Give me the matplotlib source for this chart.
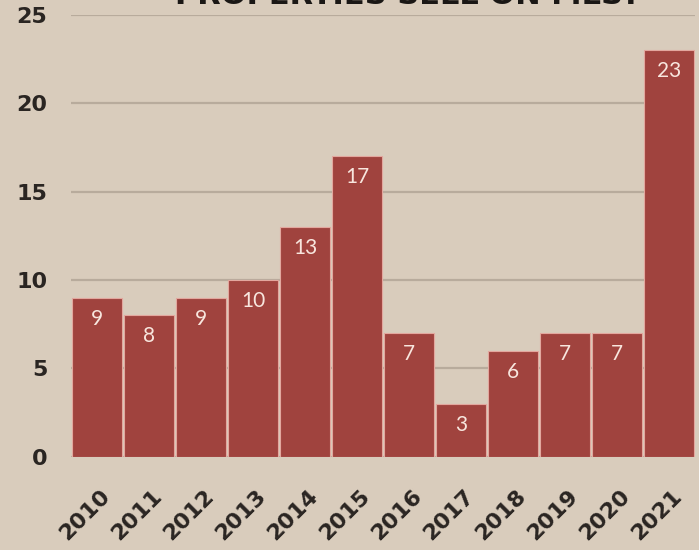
import matplotlib
matplotlib.use("Agg")
import matplotlib.pyplot as plt
from matplotlib.transforms import ScaledTranslation

years = ["2010", "2011", "2012", "2013", "2014", "2015",
         "2016", "2017", "2018", "2019", "2020", "2021"]
counts = [9, 8, 9, 10, 13, 17, 7, 3, 6, 7, 7, 23]
yticks = [0, 5, 10, 15, 20, 25]

bg = "#d9ccbc"
bar_color = "#a0433e"

fig = plt.figure(figsize=(6.99, 5.5), dpi=100, facecolor=bg)
ax = fig.add_axes([0.1016, 0.1696, 0.8927, 0.8031], facecolor=bg)

x = list(range(len(years)))
ax.bar(x, counts, width=0.97, color=bar_color, edgecolor="#e3a79e",
       linewidth=0.8, zorder=3)

for xi, v in zip(x, counts):
    ax.annotate(str(v), (xi, v), xytext=(0, -15), textcoords="offset points",
                ha="center", va="center", fontsize=15, color="#f8e6de",
                family="Lato", zorder=4)

ax.set_xlim(-0.5, len(years) - 0.5)
ax.set_ylim(0, 25)
ax.set_yticks(yticks)
ax.set_yticklabels([str(t) for t in yticks], fontsize=16, fontweight="bold",
                   color="#2a2522", family="DejaVu Sans")
ax.yaxis.grid(True, color="#b8ab9c", linewidth=1.6, zorder=0)
ax.set_axisbelow(True)
ax.tick_params(axis="y", length=0, pad=17)
ax.tick_params(axis="x", length=0, pad=12)

ax.set_xticks(x)
ax.set_xticklabels(years, rotation=45, ha="right", rotation_mode="anchor",
                   fontsize=16, fontweight="bold", color="#2a2522",
                   family="DejaVu Sans")
# nudge the rotated year labels down-left to sit like the original
offset = ScaledTranslation(2 / 72, -9 / 72, fig.dpi_scale_trans)
for lbl in ax.get_xticklabels():
    lbl.set_transform(lbl.get_transform() + offset)

for s in ax.spines.values():
    s.set_visible(False)

fig.text(0.583, 0.982, "PROPERTIES SELL ON MLS?", ha="center", va="bottom",
         fontsize=22, fontweight="bold", color="#1a1715", family="DejaVu Sans")

fig.savefig("out.png", dpi=100, facecolor=bg)
